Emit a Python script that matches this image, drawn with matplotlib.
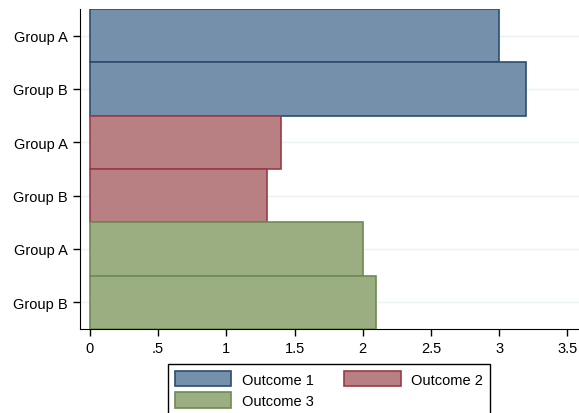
import matplotlib.pyplot as plt
from matplotlib.patches import Patch

plt.rcParams['font.family'] = ['Liberation Sans', 'DejaVu Sans']

labels = ['Group A', 'Group B', 'Group A', 'Group B', 'Group A', 'Group B']
values = [3.0, 3.2, 1.4, 1.3, 2.0, 2.1]
outcome = [0, 0, 1, 1, 2, 2]
outcome_names = ['Outcome 1', 'Outcome 2', 'Outcome 3']
fills = ['#7590aa', '#b98084', '#9aae82']
edges = ['#2b4d72', '#9a3c46', '#6f8a52']

xticks = [0, 0.5, 1, 1.5, 2, 2.5, 3, 3.5]
xticklabels = ['0', '.5', '1', '1.5', '2', '2.5', '3', '3.5']

fig = plt.figure(figsize=(5.79, 4.14), dpi=100)
ax = fig.add_axes([0.138, 0.203, 0.862, 0.773])

ypos = list(range(len(values)))
for y, v, o in zip(ypos, values, outcome):
    ax.barh(y, v, height=1.0, color=fills[o], edgecolor=edges[o], linewidth=1.2, zorder=3)

ax.set_ylim(len(values) - 0.5, -0.5)
ax.set_xlim(-0.073, 3.585)
ax.set_yticks(ypos)
ax.set_yticklabels(labels, fontsize=10.5)
ax.set_xticks(xticks)
ax.set_xticklabels(xticklabels, fontsize=10.5)
ax.grid(axis='y', color='#eaf2f3', linewidth=1, zorder=0)
ax.tick_params(axis='both', direction='out', length=5, width=1, color='black')
ax.spines['top'].set_visible(False)
ax.spines['right'].set_visible(False)

# row-wise legend order: matplotlib fills columns first
handles = [Patch(facecolor=fills[i], edgecolor=edges[i], linewidth=1.2) for i in range(3)]
order = [0, 2, 1]
fig.legend([handles[i] for i in order], [outcome_names[i] for i in order],
           loc='upper center', bbox_to_anchor=(0.568, 0.135),
           ncol=2, fontsize=10.5, frameon=True, fancybox=False, edgecolor='black',
           handlelength=3.9, handleheight=1.25, handletextpad=0.7, columnspacing=2.1,
           borderpad=0.45, labelspacing=0.4, framealpha=1)

fig.savefig('out.png', dpi=100)
